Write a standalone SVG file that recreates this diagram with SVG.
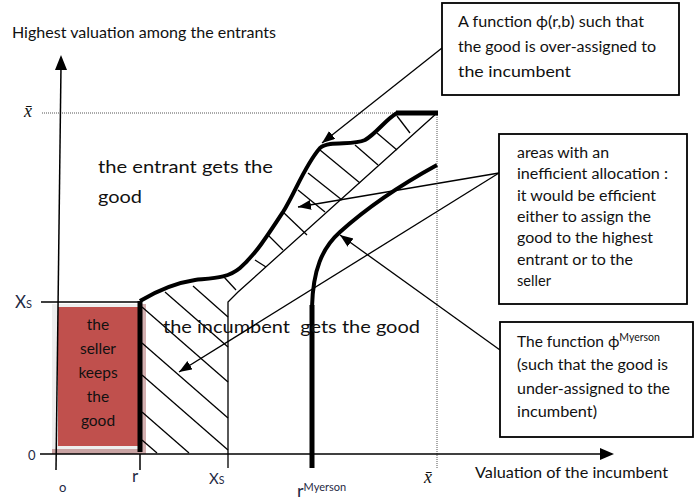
<svg xmlns="http://www.w3.org/2000/svg" width="696" height="503" viewBox="0 0 696 503">
<style>
text{font-family:Lato,"Liberation Sans",sans-serif;fill:#111}
.ax{fill:#1f2a44}
.thin{stroke:#000;stroke-width:1.3;fill:none}
.thick{stroke:#000;stroke-width:4;fill:none;stroke-linecap:butt}
.dot{stroke:#555;stroke-width:1;stroke-dasharray:1 1;fill:none}
.box{fill:#fff;stroke:#000;stroke-width:1.8}
.conn{stroke:#000;stroke-width:1.3;fill:none;marker-end:url(#ah)}
.bt{font-size:15.5px}
.mt{font-size:18px}
.math{font-family:"Liberation Serif",serif;font-style:italic;fill:#111}
</style>
<defs>
<marker id="ah" markerUnits="userSpaceOnUse" markerWidth="14" markerHeight="12" refX="13" refY="5" orient="auto">
<path d="M0,0 L13,5 L0,10 z" fill="#000"/>
</marker>
</defs>

<g id="axis-labels">
<text x="12" y="38" font-size="15" textLength="264" lengthAdjust="spacingAndGlyphs">Highest valuation among the entrants</text>
<text x="475" y="478" font-size="15" textLength="193" lengthAdjust="spacingAndGlyphs">Valuation of the incumbent</text>
<text class="math" x="24" y="117" font-size="18">x̄</text>
<text class="math" x="424" y="483" font-size="18">x̄</text>
<text class="ax" x="15" y="308" font-size="17">X<tspan font-size="11">S</tspan></text>
<text class="ax" x="209" y="484" font-size="15">X<tspan font-size="10.5">S</tspan></text>
<text class="ax" x="28" y="460" font-size="13">0</text>
<text class="ax" x="59" y="492" font-size="13">o</text>
<text class="ax" x="132" y="482" font-size="17">r</text>
<text class="ax" x="297" y="497" font-size="18">r<tspan font-size="11" dy="-6">Myerson</tspan></text>
</g>

<g id="dotted">
<line class="dot" x1="42" y1="113" x2="437" y2="113"/>
<line class="dot" x1="437" y1="113" x2="437" y2="468"/>
</g>

<g id="seller-region">
<rect x="52" y="304" width="94" height="150" fill="#eeeeee"/>
<rect x="52" y="449" width="94" height="5" fill="#c9a3a3"/>
<rect x="142" y="304" width="4" height="150" fill="#d4b0b0"/>
<rect x="58" y="307" width="80" height="139" fill="#c0504d"/>
<g font-size="15.5" text-anchor="middle">
<text x="98" y="330">the</text>
<text x="98" y="354">seller</text>
<text x="98" y="378">keeps</text>
<text x="98" y="402">the</text>
<text x="98" y="426">good</text>
</g>
</g>

<g id="axes">
<line x1="61" y1="66" x2="56" y2="470" stroke="#000" stroke-width="1.5"/>
<path d="M61,55 L67,70 L55,70 z" fill="#000"/>
<line x1="40" y1="454" x2="602" y2="454" stroke="#000" stroke-width="1.5"/>
<path d="M614,454 L600,448 L600,460 z" fill="#000"/>
<line x1="41" y1="302" x2="140" y2="302" stroke="#000" stroke-width="1.5"/>
<line x1="140" y1="454" x2="140" y2="470" stroke="#000" stroke-width="1.5"/>
</g>

<g id="hatching" class="thin">
<line x1="142" y1="307" x2="228" y2="382"/>
<line x1="142" y1="343" x2="228" y2="418"/>
<line x1="142" y1="375" x2="228" y2="450"/>
<line x1="142" y1="412" x2="189" y2="453"/>
<line x1="142" y1="440" x2="157" y2="453"/>
<line x1="165" y1="292" x2="228" y2="347"/>
<line x1="193" y1="286" x2="228" y2="317"/>
<line x1="224" y1="277" x2="236" y2="290"/>
<line x1="255" y1="260" x2="266" y2="267"/>
<line x1="268" y1="235" x2="283" y2="250"/>
<line x1="283" y1="212" x2="307" y2="235"/>
<line x1="298" y1="190" x2="325" y2="212"/>
<line x1="308" y1="173" x2="342" y2="200"/>
<line x1="320" y1="150" x2="360" y2="183"/>
<line x1="355" y1="145" x2="378" y2="165"/>
<line x1="377" y1="133" x2="397" y2="150"/>
<line x1="397" y1="116" x2="410" y2="133"/>
</g>

<g id="boundary-xs">
<path class="thin" d="M228,468 L228,302 L238,292 L437,113"/>
</g>

<g id="phi-curve">
<path class="thick" d="M140,301 C155,292 175,283 195,280 C215,278 228,278 240,268 C255,255 268,235 283,212 C295,193 305,165 320,148 C330,140 352,146 365,140 C377,133 385,120 397,113"/>
<line x1="396" y1="113" x2="438" y2="113" stroke="#000" stroke-width="5"/>
<line x1="140" y1="301" x2="140" y2="452" stroke="#000" stroke-width="5"/>
</g>

<g id="myerson-curve">
<line x1="312" y1="468" x2="312" y2="305" stroke="#000" stroke-width="5"/>
<path class="thick" d="M312,307 C313,270 322,248 340,232 C360,214 395,188 437,165"/>
</g>

<g id="region-labels">
<text class="mt" x="98" y="173" textLength="175" lengthAdjust="spacingAndGlyphs">the entrant gets the</text>
<text class="mt" x="98" y="203" textLength="44" lengthAdjust="spacingAndGlyphs">good</text>
<text class="mt" x="163" y="333" textLength="257" lengthAdjust="spacingAndGlyphs" xml:space="preserve">the incumbent  gets the good</text>
</g>

<g id="connectors">
<line class="conn" x1="442" y1="48" x2="322" y2="143"/>
<line class="conn" x1="499" y1="173" x2="298" y2="207"/>
<line class="conn" x1="499" y1="173" x2="179" y2="372"/>
<line class="conn" x1="500" y1="350" x2="340" y2="235"/>
</g>

<g id="box-overassigned">
<rect class="box" x="442" y="3" width="237" height="92"/>
<text class="bt" x="458" y="27" textLength="186" lengthAdjust="spacingAndGlyphs">A function ϕ(r,b) such that</text>
<text class="bt" x="458" y="52" textLength="198" lengthAdjust="spacingAndGlyphs">the good is over-assigned to</text>
<text class="bt" x="458" y="77" textLength="113" lengthAdjust="spacingAndGlyphs">the incumbent</text>
</g>

<g id="box-inefficient">
<rect class="box" x="499" y="134" width="188" height="170"/>
<text class="bt" x="517" y="158" textLength="92" lengthAdjust="spacingAndGlyphs">areas with an</text>
<text class="bt" x="517" y="179" textLength="151" lengthAdjust="spacingAndGlyphs">inefficient allocation :</text>
<text class="bt" x="517" y="201" textLength="139" lengthAdjust="spacingAndGlyphs">it would be efficient</text>
<text class="bt" x="517" y="222" textLength="134" lengthAdjust="spacingAndGlyphs">either to assign the</text>
<text class="bt" x="517" y="243" textLength="136" lengthAdjust="spacingAndGlyphs">good to the highest</text>
<text class="bt" x="517" y="265" textLength="116" lengthAdjust="spacingAndGlyphs">entrant or to the</text>
<text class="bt" x="517" y="286" textLength="34" lengthAdjust="spacingAndGlyphs">seller</text>
</g>

<g id="box-myerson">
<rect class="box" x="500" y="322" width="193" height="115"/>
<text class="bt" x="517" y="347">The function ϕ<tspan font-size="10.5" dy="-6">Myerson</tspan></text>
<text class="bt" x="517" y="370" textLength="151" lengthAdjust="spacingAndGlyphs">(such that the good is</text>
<text class="bt" x="517" y="394" textLength="153" lengthAdjust="spacingAndGlyphs">under-assigned to the</text>
<text class="bt" x="517" y="417" textLength="80" lengthAdjust="spacingAndGlyphs">incumbent)</text>
</g>
</svg>
